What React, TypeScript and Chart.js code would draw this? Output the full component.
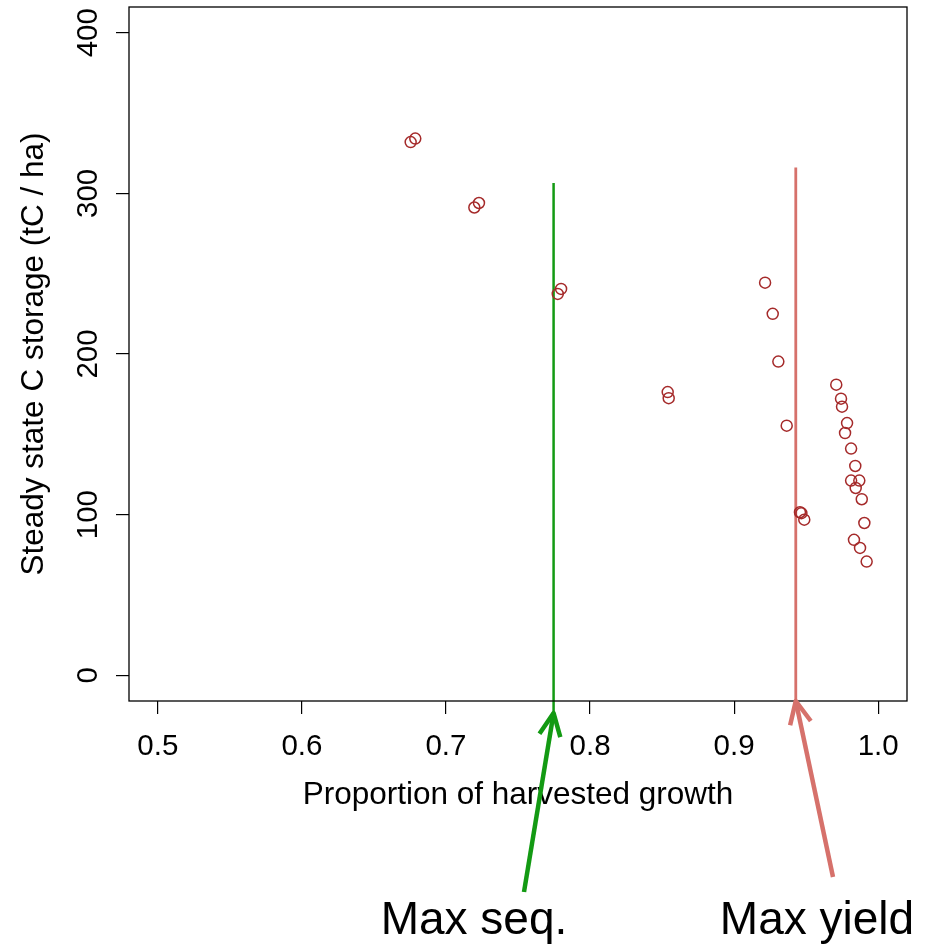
import React, { useEffect, useRef } from "react";
import { Chart, registerables } from "chart.js";

Chart.register(...registerables);

// Data
const harvestProportion = [
  0.6755, 0.6787, 0.7197, 0.7229, 0.7776, 0.7799, 0.8539, 0.8546, 0.9215, 0.9268,
  0.9307, 0.9365, 0.9709, 0.9742, 0.9749, 0.9784, 0.977, 0.9812, 0.9841, 0.9812,
  0.9869, 0.9844, 0.9886, 0.9457, 0.9467, 0.9487, 0.9904, 0.9832, 0.9874, 0.992,
];
const carbonStorage = [
  331.9, 334.1, 291.2, 294.0, 237.4, 240.5, 176.3, 172.5, 244.4, 225.0,
  195.3, 155.4, 180.9, 172.2, 167.2, 157.0, 150.8, 141.1, 130.3, 121.2,
  121.2, 116.6, 109.6, 101.5, 100.9, 96.9, 94.8, 84.3, 79.3, 70.8,
];
const maxSeqX = 0.7747;
const maxSeqY = [-23.5, 306.4];
const maxYieldX = 0.9428;
const maxYieldY = [-16, 316.1];
const xRange = [0.48, 1.02];
const yRange = [-16, 416];
const xTickStep = 0.1;
const yTickStep = 100;
const xTitle = "Proportion of harvested growth";
const yTitle = "Steady state C storage (tC / ha)";
const seqLabel = "Max seq.";
const yieldLabel = "Max yield";

const FONT = '"Liberation Sans", Arial, Helvetica, sans-serif';
const GREEN = "#139a13";
const RED = "#d6716b";

function drawArrow(ctx: CanvasRenderingContext2D, fx: number, fy: number, tx: number, ty: number, color: string, width: number) {
  const ang = Math.atan2(fy - ty, fx - tx);
  const head = 25;
  const spread = (25 * Math.PI) / 180;
  ctx.save();
  ctx.strokeStyle = color;
  ctx.lineWidth = width;
  ctx.lineCap = "butt";
  ctx.lineJoin = "round";
  ctx.beginPath();
  ctx.moveTo(fx, fy);
  ctx.lineTo(tx, ty);
  ctx.stroke();
  ctx.beginPath();
  ctx.moveTo(tx + head * Math.cos(ang - spread), ty + head * Math.sin(ang - spread));
  ctx.lineTo(tx, ty);
  ctx.lineTo(tx + head * Math.cos(ang + spread), ty + head * Math.sin(ang + spread));
  ctx.stroke();
  ctx.restore();
}

const decorPlugin = {
  id: "rDecor",
  afterDraw(chart: any) {
    const ctx: CanvasRenderingContext2D = chart.ctx;
    const { left, right, top, bottom } = chart.chartArea;
    const xs = chart.scales.x;
    const ys = chart.scales.y;
    ctx.save();
    // box
    ctx.strokeStyle = "#000";
    ctx.lineWidth = 1.3;
    ctx.strokeRect(left, top, right - left, bottom - top);

    ctx.fillStyle = "#000";
    // x tick labels
    ctx.font = `29.5px ${FONT}`;
    ctx.textAlign = "center";
    ctx.textBaseline = "alphabetic";
    xs.ticks.forEach((t: any) => {
      ctx.fillText(t.value.toFixed(1), xs.getPixelForValue(t.value), 755);
    });
    // y tick labels (rotated)
    ys.ticks.forEach((t: any) => {
      ctx.save();
      ctx.translate(97, ys.getPixelForValue(t.value));
      ctx.rotate(-Math.PI / 2);
      ctx.fillText(String(t.value), 0, 0);
      ctx.restore();
    });
    // titles
    ctx.font = `31.5px ${FONT}`;
    ctx.fillText(xTitle, (left + right) / 2, 804);
    ctx.save();
    ctx.translate(43, (top + bottom) / 2);
    ctx.rotate(-Math.PI / 2);
    ctx.fillText(yTitle, 0, 0);
    ctx.restore();

    // annotations
    ctx.font = `46px ${FONT}`;
    ctx.fillText(seqLabel, 474, 934);
    ctx.fillText(yieldLabel, 817, 934);
    drawArrow(ctx, 524, 892, xs.getPixelForValue(maxSeqX), ys.getPixelForValue(maxSeqY[0]), GREEN, 4.5);
    drawArrow(ctx, 833, 877, xs.getPixelForValue(maxYieldX), ys.getPixelForValue(maxYieldY[0]), RED, 4.5);
    ctx.restore();
  },
};

export default function App() {
  const ref = useRef<HTMLCanvasElement | null>(null);
  useEffect(() => {
    if (!ref.current) return;
    const chart = new Chart(ref.current, {
      type: "scatter",
      data: {
        datasets: [
          {
            data: harvestProportion.map((x, i) => ({ x, y: carbonStorage[i] })),
            pointStyle: "circle",
            pointRadius: 5.5,
            pointBorderWidth: 1.5,
            pointBorderColor: "#a52a2a",
            pointBackgroundColor: "rgba(0,0,0,0)",
            showLine: false,
          },
          {
            data: maxSeqY.map((y) => ({ x: maxSeqX, y })),
            showLine: true,
            borderColor: GREEN,
            borderWidth: 2.5,
            pointRadius: 0,
            clip: false as any,
          },
          {
            data: maxYieldY.map((y) => ({ x: maxYieldX, y })),
            showLine: true,
            borderColor: RED,
            borderWidth: 2.8,
            pointRadius: 0,
            clip: false as any,
          },
        ],
      },
      options: {
        responsive: false,
        animation: false,
        layout: { padding: { top: 6, right: 23, left: 0, bottom: 0 } },
        plugins: { legend: { display: false }, tooltip: { enabled: false } },
        scales: {
          x: {
            type: "linear",
            min: xRange[0],
            max: xRange[1],
            ticks: { stepSize: xTickStep, includeBounds: false, display: false },
            grid: { drawOnChartArea: false, drawTicks: true, tickLength: 13, color: "#000", lineWidth: 1.2 },
            border: { display: false },
            afterFit: (s: any) => {
              s.height = 244;
            },
          },
          y: {
            type: "linear",
            min: yRange[0],
            max: yRange[1],
            ticks: { stepSize: yTickStep, includeBounds: false, display: false },
            grid: { drawOnChartArea: false, drawTicks: true, tickLength: 13, color: "#000", lineWidth: 1.2 },
            border: { display: false },
            afterFit: (s: any) => {
              s.width = 129;
            },
          },
        },
      },
      plugins: [decorPlugin],
    });
    return () => chart.destroy();
  }, []);
  return (
    <div style={{ position: "absolute", left: 0, top: 0, width: 930, height: 945 }}>
      <canvas ref={ref} width={930} height={945} style={{ width: 930, height: 945, display: "block" }} />
    </div>
  );
}
